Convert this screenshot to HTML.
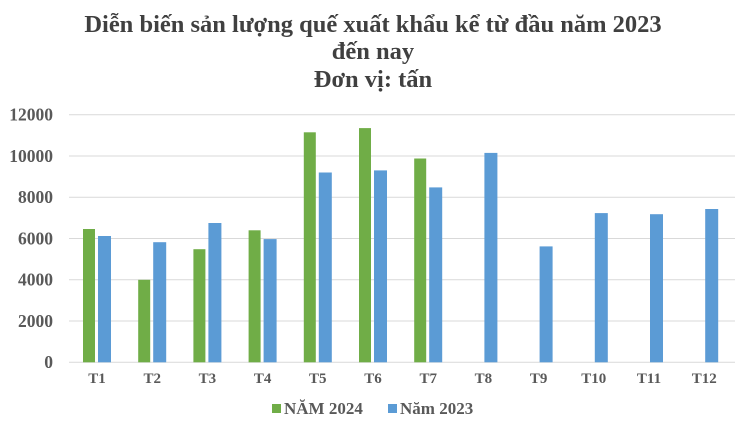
<!DOCTYPE html>
<html><head><style>
body{margin:0;background:#fff;}
svg text{font-family:"Liberation Serif",serif;font-weight:bold;}
</style></head><body>
<svg width="747" height="431" xmlns="http://www.w3.org/2000/svg">
<rect width="747" height="431" fill="#fff"/>
<g fill="#404040" font-size="24.5" text-anchor="middle">
<text x="373" y="32">Diễn biến sản lượng quế xuất khẩu kể từ đầu năm 2023</text>
<text x="373" y="59">đến nay</text>
<text x="373" y="87">Đơn vị: tấn</text>
</g>
<g stroke="#d9d9d9" stroke-width="1">
<line x1="69" x2="735" y1="114.7" y2="114.7"/>
<line x1="69" x2="735" y1="156" y2="156"/>
<line x1="69" x2="735" y1="197.2" y2="197.2"/>
<line x1="69" x2="735" y1="238.5" y2="238.5"/>
<line x1="69" x2="735" y1="279.8" y2="279.8"/>
<line x1="69" x2="735" y1="321" y2="321"/>
<line x1="69" x2="735" y1="362.3" y2="362.3"/>
</g>
<g fill="#595959" font-size="17.5" text-anchor="end">
<text x="53" y="120.5">12000</text>
<text x="53" y="161.8">10000</text>
<text x="53" y="203">8000</text>
<text x="53" y="244.3">6000</text>
<text x="53" y="285.6">4000</text>
<text x="53" y="326.8">2000</text>
<text x="53" y="368">0</text>
</g>
<g fill="#70AD47">
<rect x="83" y="229.0" width="12" height="133.3"/>
<rect x="138.2" y="279.8" width="12" height="82.5"/>
<rect x="193.4" y="249.2" width="12" height="113.1"/>
<rect x="248.6" y="230.3" width="12" height="132.0"/>
<rect x="303.8" y="132.3" width="12" height="230.0"/>
<rect x="359" y="128.1" width="12" height="234.2"/>
<rect x="414.2" y="158.5" width="12" height="203.8"/>
</g>
<g fill="#5B9BD5">
<rect x="98" y="236.0" width="13" height="126.3"/>
<rect x="153.2" y="242.2" width="13" height="120.1"/>
<rect x="208.4" y="223.0" width="13" height="139.3"/>
<rect x="263.6" y="239.1" width="13" height="123.2"/>
<rect x="318.8" y="172.5" width="13" height="189.8"/>
<rect x="374" y="170.4" width="13" height="191.9"/>
<rect x="429.2" y="187.4" width="13" height="174.9"/>
<rect x="484.4" y="152.9" width="13" height="209.4"/>
<rect x="539.6" y="246.4" width="13" height="115.9"/>
<rect x="594.8" y="213.1" width="13" height="149.2"/>
<rect x="650" y="214.2" width="13" height="148.1"/>
<rect x="705.2" y="209.0" width="13" height="153.3"/>
</g>
<g fill="#595959" font-size="15" text-anchor="middle">
<text x="97" y="383">T1</text>
<text x="152.2" y="383">T2</text>
<text x="207.4" y="383">T3</text>
<text x="262.6" y="383">T4</text>
<text x="317.8" y="383">T5</text>
<text x="373" y="383">T6</text>
<text x="428.2" y="383">T7</text>
<text x="483.4" y="383">T8</text>
<text x="538.6" y="383">T9</text>
<text x="593.8" y="383">T10</text>
<text x="649" y="383">T11</text>
<text x="704.2" y="383">T12</text>
</g>
<rect x="272" y="404" width="9" height="9" fill="#70AD47"/>
<text x="284" y="414" font-size="17" fill="#595959">NĂM 2024</text>
<rect x="388" y="404" width="9" height="9" fill="#5B9BD5"/>
<text x="400" y="414" font-size="17" fill="#595959">Năm 2023</text>
</svg>
</body></html>
